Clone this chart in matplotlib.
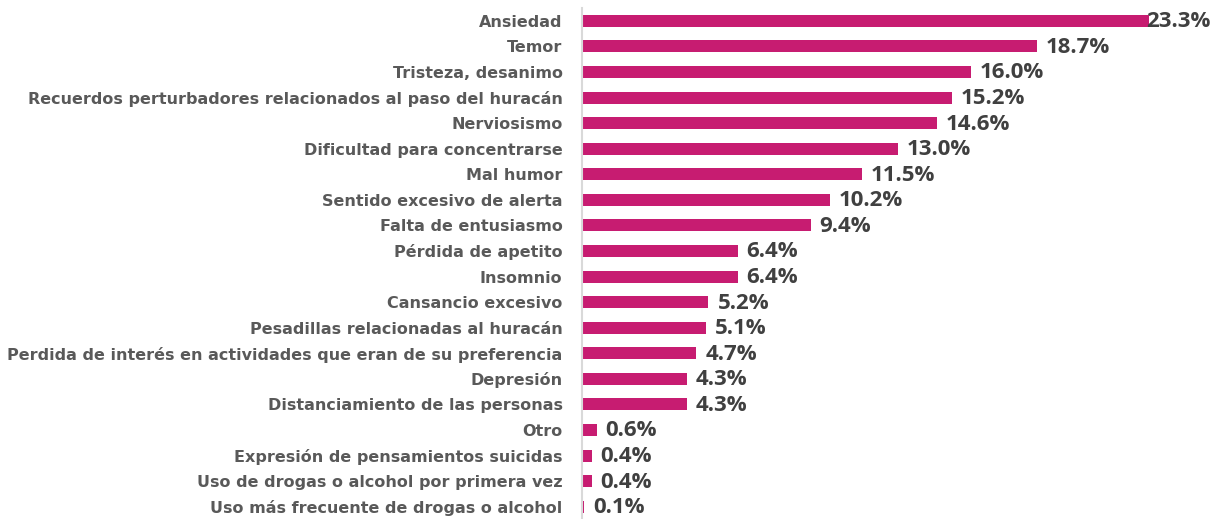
import matplotlib
matplotlib.use("Agg")
import matplotlib.pyplot as plt
from matplotlib import transforms

categories = [
    "Ansiedad",
    "Temor",
    "Tristeza, desanimo",
    "Recuerdos perturbadores relacionados al paso del huracán",
    "Nerviosismo",
    "Dificultad para concentrarse",
    "Mal humor",
    "Sentido excesivo de alerta",
    "Falta de entusiasmo",
    "Pérdida de apetito",
    "Insomnio",
    "Cansancio excesivo",
    "Pesadillas relacionadas al huracán",
    "Perdida de interés en actividades que eran de su preferencia",
    "Depresión",
    "Distanciamiento de las personas",
    "Otro",
    "Expresión de pensamientos suicidas",
    "Uso de drogas o alcohol por primera vez",
    "Uso más frecuente de drogas o alcohol",
]
values = [23.3, 18.7, 16.0, 15.2, 14.6, 13.0, 11.5, 10.2, 9.4, 6.4, 6.4, 5.2, 5.1, 4.7, 4.3, 4.3, 0.6, 0.4, 0.4, 0.1]
value_labels = [f"{v:.1f}%" for v in values]

BAR = "#C71C71"
CAT_FONT = ["DejaVu Sans"]
VAL_FONT = ["Open Sans", "DejaVu Sans"]

fig = plt.figure(figsize=(12.14, 5.19), dpi=100)
ax = fig.add_axes([582/1214, 0.0, (1190-582)/1214, 1 - 8/519])

y = list(range(len(categories)))
ax.barh(y, values, height=0.47, color=BAR, edgecolor="none", zorder=2)
ax.set_xlim(0, 25.0)
ax.set_ylim(19.48, -0.5)

ax.set_yticks(y)
ax.set_yticklabels(categories, fontsize=11.5, fontweight="bold", color="#595959", family=CAT_FONT)
ax.tick_params(axis="y", length=0, pad=14)
ax.set_xticks([])
for s in ["top", "right", "bottom"]:
    ax.spines[s].set_visible(False)
ax.spines["left"].set_color("#D9D9D9")
ax.spines["left"].set_linewidth(1.5)

for yi, v, lab in zip(y, values, value_labels):
    if v == max(values):
        off = transforms.offset_copy(ax.transData, fig=fig, x=-2, y=-1, units="dots")
    else:
        off = transforms.offset_copy(ax.transData, fig=fig, x=9, y=-1, units="dots")
    ax.text(v, yi, lab, transform=off, ha="left", va="center", fontsize=16,
            fontweight="bold", color="#404040", family=VAL_FONT, clip_on=False)

fig.savefig("out.png", dpi=100)
